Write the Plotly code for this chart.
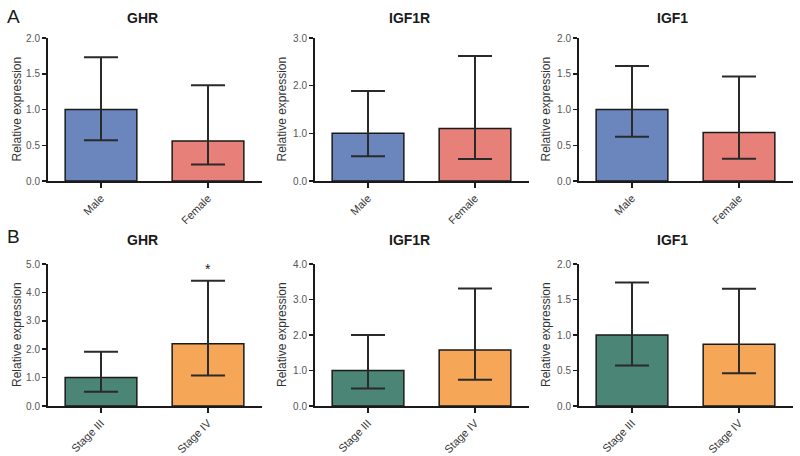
import plotly.graph_objects as go

W, H = 800, 456

sex_groups = ["Male", "Female"]
stage_groups = ["Stage III", "Stage IV"]
genes = ["GHR", "IGF1R", "IGF1"]

# Panel A (sex)
a_mean = [[1.00, 0.56], [1.00, 1.10], [1.00, 0.68]]
a_upper = [[1.73, 1.34], [1.89, 2.62], [1.61, 1.46]]
a_lower = [[0.57, 0.23], [0.52, 0.46], [0.62, 0.31]]
a_ymax = [2.0, 3.0, 2.0]
a_dtick = [0.5, 1.0, 0.5]

# Panel B (stage)
b_mean = [[1.00, 2.19], [1.00, 1.58], [1.00, 0.87]]
b_upper = [[1.91, 4.41], [2.00, 3.31], [1.74, 1.65]]
b_lower = [[0.50, 1.07], [0.49, 0.74], [0.57, 0.46]]
b_ymax = [5.0, 4.0, 2.0]
b_dtick = [1.0, 1.0, 0.5]

sex_colors = ["#6a86bd", "#e8807a"]
stage_colors = ["#4a8575", "#f5a656"]

# layout in pixels
x_domains_px = [(47.5, 261.5), (314.5, 528.5), (578.5, 792.5)]
title_x_px = [142, 409, 672]
ytitle_x_px = [17, 282, 546]
rows_px = [(38, 181), (264, 406)]
title_y_px = [18, 240]

font_family = "Liberation Sans, Arial, sans-serif"

fig = go.Figure()
annotations = []

def px_x(p):
    return p / W

def px_y(p):
    return 1 - p / H

idx = 0
for r, (groups, means, ups, lows, ymaxs, dticks, colors) in enumerate([
    (sex_groups, a_mean, a_upper, a_lower, a_ymax, a_dtick, sex_colors),
    (stage_groups, b_mean, b_upper, b_lower, b_ymax, b_dtick, stage_colors),
]):
    for c in range(3):
        idx += 1
        xa = "x" if idx == 1 else f"x{idx}"
        ya = "y" if idx == 1 else f"y{idx}"
        m = means[c]
        fig.add_trace(go.Bar(
            x=[0, 1], y=m, width=0.67,
            marker=dict(color=colors, line=dict(color="#1a1a1a", width=1.5)),
            error_y=dict(type="data", symmetric=False,
                         array=[u - v for u, v in zip(ups[c], m)],
                         arrayminus=[v - l for l, v in zip(lows[c], m)],
                         color="#2a2a2a", thickness=2, width=17),
            xaxis=xa, yaxis=ya, showlegend=False, hoverinfo="skip",
        ))
        xd = x_domains_px[c]
        yd = rows_px[r]
        xkey = "xaxis" if idx == 1 else f"xaxis{idx}"
        ykey = "yaxis" if idx == 1 else f"yaxis{idx}"
        fig.update_layout(**{
            xkey: dict(domain=[px_x(xd[0]), px_x(xd[1])], anchor=ya,
                       range=[-0.5, 1.5], tickmode="array", tickvals=[0, 1],
                       ticktext=groups, tickangle=-45, ticks="outside",
                       ticklen=5, tickwidth=1.5, tickcolor="#1a1a1a",
                       showline=True, linecolor="#1a1a1a", linewidth=1.5,
                       showgrid=False, zeroline=False, automargin=False,
                       tickfont=dict(size=11, color="#333333", family=font_family)),
            ykey: dict(domain=[px_y(yd[1]), px_y(yd[0])], anchor=xa,
                       range=[0, ymaxs[c]], dtick=dticks[c], tick0=0,
                       tickformat=".1f", ticks="outside", ticklen=4,
                       tickwidth=1.5, tickcolor="#1a1a1a",
                       showline=True, linecolor="#1a1a1a", linewidth=1.5,
                       showgrid=False, zeroline=False, automargin=False,
                       tickfont=dict(size=10, color="#555555", family=font_family)),
        })
        annotations.append(dict(
            x=px_x(title_x_px[c]), y=px_y(title_y_px[r]), xref="paper", yref="paper",
            text="<b>" + genes[c] + "</b>", showarrow=False,
            font=dict(size=14, color="#1a1a1a", family=font_family),
            xanchor="center", yanchor="middle"))
        annotations.append(dict(
            x=px_x(ytitle_x_px[c]), y=px_y((yd[0] + yd[1]) / 2), xref="paper", yref="paper",
            text="Relative expression", showarrow=False, textangle=-90,
            font=dict(size=12, color="#333333", family=font_family),
            xanchor="center", yanchor="middle"))

# significance star on GHR Stage IV
annotations.append(dict(x=1, y=4.83, xref="x4", yref="y4", text="*", showarrow=False,
                        font=dict(size=14, color="#1a1a1a", family=font_family),
                        xanchor="center", yanchor="middle"))

# panel letters
for letter, ypx in [("A", 16), ("B", 236)]:
    annotations.append(dict(x=px_x(13), y=px_y(ypx), xref="paper", yref="paper",
                            text=letter, showarrow=False,
                            font=dict(size=19, color="#1a1a1a", family=font_family),
                            xanchor="center", yanchor="middle"))

fig.update_layout(
    width=W, height=H, margin=dict(l=0, r=0, t=0, b=0, autoexpand=False),
    paper_bgcolor="white", plot_bgcolor="white",
    annotations=annotations, bargap=0, hovermode=False,
)

fig.write_html("out.html", config={"displayModeBar": False, "staticPlot": True},
               post_script="document.body.style.margin='0px';document.body.style.overflow='hidden';")
